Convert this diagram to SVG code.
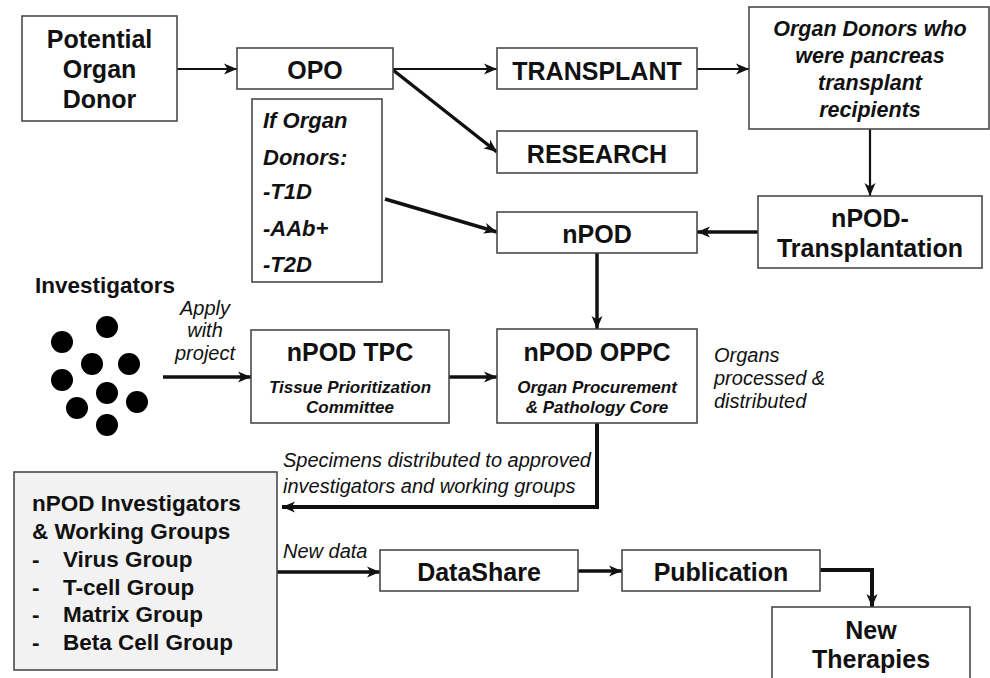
<svg xmlns="http://www.w3.org/2000/svg" width="990" height="678" viewBox="0 0 990 678">
<defs>
<style>
.box{fill:#ffffff;stroke:#4a4a4a;stroke-width:1.6}
.gbox{fill:#f2f2f2;stroke:#4a4a4a;stroke-width:1.6}
text{font-family:"Liberation Sans",Arial,sans-serif;fill:#111}
.t{font-weight:bold;font-size:25px;text-anchor:middle}
.bi{font-weight:bold;font-style:italic}
.it{font-style:italic;font-size:20px}
.c{stroke:#111;fill:none}
.th{stroke-width:2.2}
.tk{stroke-width:3.5}
.dot{fill:#000}
</style>
<marker id="ah" markerUnits="userSpaceOnUse" markerWidth="14" markerHeight="12" refX="13" refY="6" orient="auto">
<path d="M0,0.5 L13,6 L0,11.5 L3.5,6 z" fill="#111"/>
</marker>
</defs>
<rect width="990" height="678" fill="#ffffff"/>

<g id="connectors">
<line class="c th" x1="177" y1="69" x2="237" y2="69" marker-end="url(#ah)"/>
<line class="c th" x1="393" y1="69" x2="497" y2="69" marker-end="url(#ah)"/>
<line class="c tk" x1="393" y1="70" x2="497" y2="152" marker-end="url(#ah)"/>
<line class="c th" x1="697" y1="69" x2="749" y2="69" marker-end="url(#ah)"/>
<line class="c th" x1="870" y1="129" x2="870" y2="196" marker-end="url(#ah)"/>
<line class="c tk" x1="758" y1="232" x2="697" y2="232" marker-end="url(#ah)"/>
<line class="c tk" x1="385" y1="199" x2="497" y2="232" marker-end="url(#ah)"/>
<line class="c tk" x1="597" y1="253" x2="597" y2="329" marker-end="url(#ah)"/>
<line class="c tk" x1="163" y1="377" x2="251" y2="377" marker-end="url(#ah)"/>
<line class="c tk" x1="449" y1="377" x2="497" y2="377" marker-end="url(#ah)"/>
<polyline class="c" stroke-width="4" points="597,423 597,507 282,507" marker-end="url(#ah)"/>
<line class="c tk" x1="277" y1="572" x2="380" y2="572" marker-end="url(#ah)"/>
<line class="c tk" x1="578" y1="571" x2="622" y2="571" marker-end="url(#ah)"/>
<polyline class="c" stroke-width="4" points="820,570 872,570 872,607" marker-end="url(#ah)"/>
<text class="it" text-anchor="middle" x="205" y="315">Apply</text>
<text class="it" text-anchor="middle" x="205" y="337">with</text>
<text class="it" text-anchor="middle" x="205" y="360">project</text>
<text class="it" x="714" y="362">Organs</text>
<text class="it" x="714" y="385">processed &amp;</text>
<text class="it" x="714" y="408">distributed</text>
<text class="it" x="283" y="467">Specimens distributed to approved</text>
<text class="it" x="283" y="493">investigators and working groups</text>
<text class="it" x="283" y="558">New data</text>
</g>

<g id="potential-donor">
<rect class="box" x="22" y="16" width="155" height="105"/>
<text class="t" x="99.5" y="48">Potential</text>
<text class="t" x="99.5" y="78">Organ</text>
<text class="t" x="99.5" y="108">Donor</text>
</g>

<g id="opo">
<rect class="box" x="237" y="48" width="156" height="41"/>
<text class="t" x="315" y="79">OPO</text>
</g>

<g id="if-donors">
<rect class="box" x="252" y="99" width="130" height="183"/>
<text class="bi" font-size="22" x="263" y="128">If Organ</text>
<text class="bi" font-size="22" x="263" y="165">Donors:</text>
<text class="bi" font-size="22" x="263" y="199">-T1D</text>
<text class="bi" font-size="22" x="263" y="236">-AAb+</text>
<text class="bi" font-size="22" x="263" y="272">-T2D</text>
</g>

<g id="transplant">
<rect class="box" x="497" y="48" width="200" height="41"/>
<text class="t" x="597" y="80">TRANSPLANT</text>
</g>

<g id="research">
<rect class="box" x="497" y="131" width="200" height="42"/>
<text class="t" x="597" y="163">RESEARCH</text>
</g>

<g id="organ-donors-recipients">
<rect class="box" x="749" y="7" width="240" height="122"/>
<text class="bi" font-size="21.5" text-anchor="middle" x="870" y="36">Organ Donors who</text>
<text class="bi" font-size="21.5" text-anchor="middle" x="870" y="63">were pancreas</text>
<text class="bi" font-size="21.5" text-anchor="middle" x="870" y="90">transplant</text>
<text class="bi" font-size="21.5" text-anchor="middle" x="870" y="117">recipients</text>
</g>

<g id="npod-transplantation">
<rect class="box" x="758" y="196" width="224" height="72"/>
<text class="t" x="870" y="227">nPOD-</text>
<text class="t" x="870" y="257">Transplantation</text>
</g>

<g id="npod">
<rect class="box" x="497" y="212" width="200" height="41"/>
<text class="t" x="597" y="243">nPOD</text>
</g>

<g id="investigators">
<text font-weight="bold" font-size="22.5" x="35" y="293">Investigators</text>
<circle class="dot" cx="107" cy="327" r="11"/>
<circle class="dot" cx="62" cy="342" r="11"/>
<circle class="dot" cx="92" cy="364" r="11"/>
<circle class="dot" cx="129" cy="364" r="11"/>
<circle class="dot" cx="62" cy="380" r="11"/>
<circle class="dot" cx="107" cy="393" r="11"/>
<circle class="dot" cx="137" cy="402" r="11"/>
<circle class="dot" cx="77" cy="408" r="11"/>
<circle class="dot" cx="107" cy="425" r="11"/>
</g>

<g id="npod-tpc">
<rect class="box" x="251" y="330" width="198" height="93"/>
<text class="t" x="350" y="361">nPOD TPC</text>
<text class="bi" font-size="17" text-anchor="middle" x="350" y="393">Tissue Prioritization</text>
<text class="bi" font-size="17" text-anchor="middle" x="350" y="413">Committee</text>
</g>

<g id="npod-oppc">
<rect class="box" x="497" y="329" width="200" height="94"/>
<text class="t" x="597" y="361">nPOD OPPC</text>
<text class="bi" font-size="17" text-anchor="middle" x="597" y="393">Organ Procurement</text>
<text class="bi" font-size="17" text-anchor="middle" x="597" y="413">&amp; Pathology Core</text>
</g>

<g id="npod-investigators">
<rect class="gbox" x="14" y="472" width="263" height="198"/>
<text font-weight="bold" font-size="22.5" x="32" y="511">nPOD Investigators</text>
<text font-weight="bold" font-size="22.5" x="32" y="539">&amp; Working Groups</text>
<text font-weight="bold" font-size="22.5" x="32" y="567">-</text>
<text font-weight="bold" font-size="22.5" x="63" y="567">Virus Group</text>
<text font-weight="bold" font-size="22.5" x="32" y="595">-</text>
<text font-weight="bold" font-size="22.5" x="63" y="595">T-cell Group</text>
<text font-weight="bold" font-size="22.5" x="32" y="622">-</text>
<text font-weight="bold" font-size="22.5" x="63" y="622">Matrix Group</text>
<text font-weight="bold" font-size="22.5" x="32" y="650">-</text>
<text font-weight="bold" font-size="22.5" x="63" y="650">Beta Cell Group</text>
</g>

<g id="datashare">
<rect class="box" x="380" y="550" width="198" height="41"/>
<text class="t" x="479" y="581">DataShare</text>
</g>

<g id="publication">
<rect class="box" x="622" y="550" width="198" height="41"/>
<text class="t" x="721" y="581">Publication</text>
</g>

<g id="new-therapies">
<rect class="box" x="772" y="607" width="198" height="80"/>
<text class="t" x="871" y="639">New</text>
<text class="t" x="871" y="668">Therapies</text>
</g>
</svg>
